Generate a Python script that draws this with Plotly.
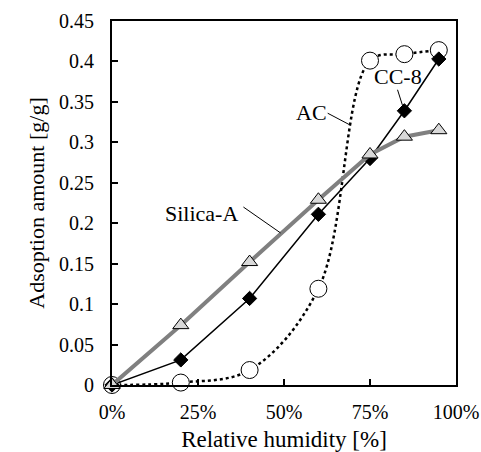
import plotly.graph_objects as go

rh = [0, 20, 40, 60, 75, 85, 95]
silica_a = [0, 0.074, 0.152, 0.229, 0.285, 0.307, 0.315]
cc8 = [0, 0.031, 0.107, 0.211, 0.280, 0.339, 0.403]
ac = [0, 0.003, 0.0185, 0.119, 0.401, 0.409, 0.414]

x_ticks = [0, 25, 50, 75, 100]
x_labels = ["0%", "25%", "50%", "75%", "100%"]
y_ticks = [0, 0.05, 0.1, 0.15, 0.2, 0.25, 0.3, 0.35, 0.4, 0.45]
y_labels = ["0", "0.05", "0.1", "0.15", "0.2", "0.25", "0.3", "0.35", "0.4", "0.45"]

FONT = "Liberation Serif, Times New Roman, serif"

fig = go.Figure()
fig.add_trace(go.Scatter(
    x=rh, y=ac, name="AC", mode="lines+markers", cliponaxis=False,
    line=dict(color="black", width=2.5, dash="dot", shape="spline", smoothing=1.0),
    marker=dict(symbol="circle", size=17, color="white", line=dict(color="black", width=1)),
))
fig.add_trace(go.Scatter(
    x=rh, y=cc8, name="CC-8", mode="lines+markers", cliponaxis=False,
    line=dict(color="black", width=1.5),
    marker=dict(symbol="diamond", size=11, color="black", line=dict(color="black", width=1)),
))
fig.add_trace(go.Scatter(
    x=rh, y=silica_a, name="Silica-A", mode="lines+markers", cliponaxis=False,
    line=dict(color="#808080", width=4),
    marker=dict(symbol="triangle-up", size=14, color="#d9d9d9", line=dict(color="black", width=1)),
))

labels = [
    ("Silica-A", 25.9, 0.2126, (38.2, 0.220), (49.0, 0.188)),
    ("AC", 58.0, 0.3375, (62.7, 0.336), (69.4, 0.321)),
    ("CC-8", 83.0, 0.381, (83.0, 0.365), (84.5, 0.345)),
]
for text, tx, ty, p0, p1 in labels:
    fig.add_annotation(x=tx, y=ty, text=text, showarrow=False,
                       font=dict(family=FONT, size=22, color="black"))
    fig.add_shape(type="line", xref="x", yref="y", x0=p0[0], y0=p0[1], x1=p1[0], y1=p1[1],
                  line=dict(color="black", width=1))

axis_common = dict(
    showline=True, linecolor="black", linewidth=2, mirror=True,
    ticks="inside", ticklen=6, tickwidth=2, tickcolor="black",
    showgrid=False, zeroline=False,
    tickfont=dict(family=FONT, size=20, color="black"),
)
fig.update_xaxes(range=[0, 100], tickvals=x_ticks, ticktext=x_labels,
                 title=dict(text="Relative humidity [%]", font=dict(family=FONT, size=23, color="black"), standoff=10),
                 ticklabelstandoff=8, **axis_common)
fig.update_yaxes(range=[0, 0.45], tickvals=y_ticks, ticktext=y_labels,
                 title=dict(text="Adsoption amount [g/g]", font=dict(family=FONT, size=22, color="black"), standoff=8),
                 ticklabelstandoff=12, **axis_common)

fig.update_layout(
    width=481, height=452,
    margin=dict(l=112, r=25, t=21, b=67, autoexpand=False),
    plot_bgcolor="white", paper_bgcolor="white",
    showlegend=False,
    font=dict(family=FONT, color="black"),
)
fig.write_html("out.html")
